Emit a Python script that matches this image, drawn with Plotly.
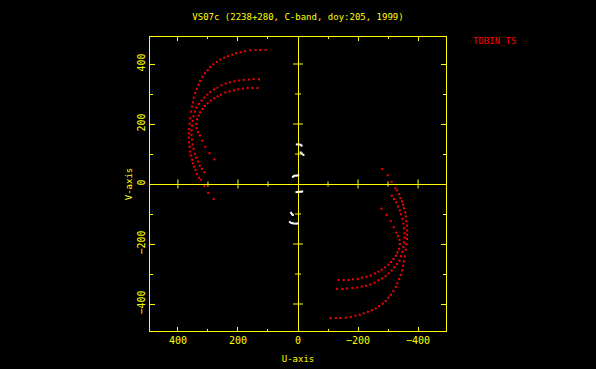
import plotly.graph_objects as go

# Visibility tracks (one half of the uv plane);
# the conjugate half (-u, -v) is added below as in a UVPLT display.
U_OUTER = [-108, -126, -141, -159, -176, -191, -206, -219, -233, -246, -259, -270,
           -282, -292, -301, -310, -318, -326, -331, -337, -342, -347, -350, -353,
           -356, -359, -361, -363, -364, -364, -363, -361, -359, -357, -353, -350,
           -346, -341, -337, -330, -324, -312, -299, -281]
V_OUTER = [-447, -447, -447, -446, -443, -439, -436, -431, -426, -421, -415, -407,
           -399, -390, -379, -369, -357, -343, -331, -317, -303, -288, -272, -258,
           -241, -219, -201, -183, -169, -155, -139, -124, -108, -95, -81, -69,
           -58, -47, -34, -21, -14, 7, 29, 50]

U_MIDDLE = [-130, -148, -163, -181, -197, -212, -227, -241, -255, -268, -280, -292,
            -302, -312, -321, -330, -338, -343, -348, -351, -353, -355, -355, -353,
            -351, -348, -343, -339, -333, -327, -320, -312]
V_MIDDLE = [-349, -350, -348, -347, -345, -342, -339, -335, -329, -321, -315, -307,
            -298, -288, -278, -267, -255, -241, -226, -210, -195, -179, -164, -148,
            -132, -117, -101, -88, -75, -61, -50, -39]

U_INNER = [-135, -152, -168, -183, -199, -213, -228, -242, -257, -268, -279, -290,
           -301, -310, -318, -326, -331, -336, -339, -338, -333, -327, -319, -309,
           -295, -278]
V_INNER = [-320, -320, -320, -318, -316, -312, -309, -305, -298, -292, -286, -278,
           -269, -260, -250, -239, -228, -216, -200, -186, -173, -162, -144, -124,
           -103, -82]

# Short-baseline points near the origin (white)
U_CORE = [4, -2, -8, -12, -9, -13, -18, 17, 13, 8, 3, -1, 5, 1, -4, -9, -14,
          23, 20, 17, 27, 22, 17, 11, 5, 0]
V_CORE = [132, 132, 131, 128, 105, 101, 97, 24, 27, 28, 28, 29, -27, -27, -26, -26, -25,
          -96, -101, -103, -127, -130, -131, -132, -132, -132]

X_TICKS = [400, 200, 0, -200, -400]
X_TICK_TEXT = ["400", "200", "0", "\u2212200", "\u2212400"]
Y_TICKS = [-400, -200, 0, 200, 400]
Y_TICK_TEXT = ["\u2212400", "\u2212200", "0", "200", "400"]
AXIS_MINOR = [-300, -100, 100, 300]
AXIS_MAJOR = [-400, -200, 200, 400]

TITLE = "VS07c (2238+280, C-band, doy:205, 1999)"
LABEL = "TDBIN_TS"

YELLOW = "#ffff00"
RED = "#ff0000"
FONT = "DejaVu Sans Mono"

u_half = U_OUTER + U_MIDDLE + U_INNER
v_half = V_OUTER + V_MIDDLE + V_INNER
u_all = u_half + [-u for u in u_half]
v_all = v_half + [-v for v in v_half]

fig = go.Figure()
fig.add_trace(go.Scatter(x=u_all, y=v_all, mode="markers",
                         marker=dict(symbol="square", size=2, color=RED,
                                     line=dict(width=0)),
                         hoverinfo="skip", showlegend=False))
fig.add_trace(go.Scatter(x=U_CORE, y=V_CORE, mode="markers",
                         marker=dict(symbol="square", size=2, color="#ffffff",
                                     line=dict(width=0)),
                         hoverinfo="skip", showlegend=False))

shapes = []
for t in AXIS_MINOR + AXIS_MAJOR:
    h = 4.5 if t in AXIS_MAJOR else 2.5
    shapes.append(dict(type="line", xref="x", yref="y", ysizemode="pixel", yanchor=0,
                       x0=t, x1=t, y0=-h, y1=h, line=dict(color=YELLOW, width=1)))
    w = 5 if t in AXIS_MAJOR else 3
    shapes.append(dict(type="line", xref="x", yref="y", xsizemode="pixel", xanchor=0,
                       y0=t, y1=t, x0=-w, x1=w, line=dict(color=YELLOW, width=1)))

fig.update_layout(
    width=596, height=369,
    margin=dict(l=150, r=150, t=37, b=38, pad=0, autoexpand=False),
    paper_bgcolor="black", plot_bgcolor="black",
    font=dict(family=FONT, color=YELLOW, size=9),
    title=dict(text=TITLE, x=0.5, xref="container", xanchor="center",
               y=1 - 17 / 369, yref="container", yanchor="middle",
               font=dict(family=FONT, size=9, color=YELLOW)),
    shapes=shapes,
    annotations=[dict(text=LABEL, xref="paper", yref="paper", x=(494.5 - 150) / 296,
                      y=(331 - 41) / 294, xanchor="center", yanchor="middle",
                      showarrow=False, font=dict(family=FONT, size=9, color=RED))],
)
fig.update_xaxes(range=[493, -493], tickmode="array", tickvals=X_TICKS, ticktext=X_TICK_TEXT,
                 ticks="inside", ticklen=4, tickwidth=1, tickcolor=YELLOW,
                 minor=dict(dtick=100, tick0=0, ticks="inside", ticklen=2, tickcolor=YELLOW),
                 showline=True, linecolor=YELLOW, linewidth=1, mirror="ticks",
                 showgrid=False, zeroline=True, zerolinecolor=YELLOW, zerolinewidth=1,
                 automargin=False,
                 tickfont=dict(family=FONT, size=10, color=YELLOW),
                 title=dict(text="U-axis", font=dict(family=FONT, size=9, color=YELLOW), standoff=10))
fig.update_yaxes(range=[-490, 490], tickmode="array", tickvals=Y_TICKS, ticktext=Y_TICK_TEXT,
                 ticks="inside", ticklen=5, tickwidth=1, tickcolor=YELLOW, tickangle=-90,
                 minor=dict(dtick=100, tick0=0, ticks="inside", ticklen=3, tickcolor=YELLOW),
                 showline=True, linecolor=YELLOW, linewidth=1, mirror="ticks",
                 showgrid=False, zeroline=True, zerolinecolor=YELLOW, zerolinewidth=1,
                 automargin=False,
                 tickfont=dict(family=FONT, size=10, color=YELLOW),
                 title=dict(text="V-axis", font=dict(family=FONT, size=9, color=YELLOW), standoff=1))

fig.write_html("out.html", config={"displayModeBar": False},
               post_script="document.body.style.margin='0';"
                           "document.body.style.background='black';"
                           "document.documentElement.style.overflow='hidden';")
